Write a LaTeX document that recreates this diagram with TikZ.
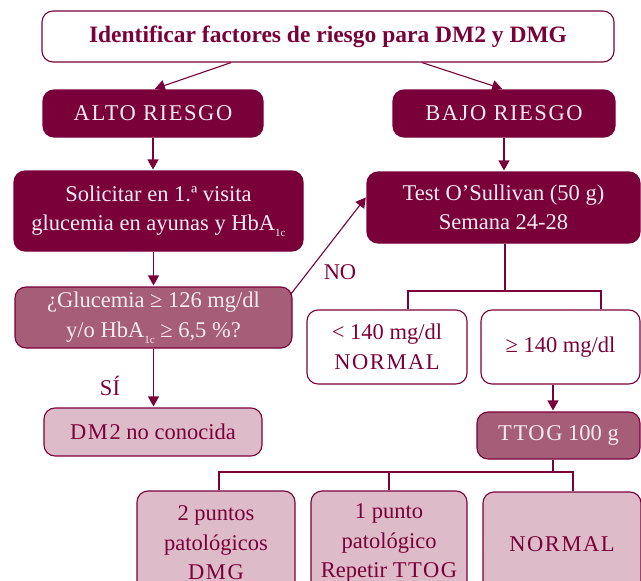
\documentclass[tikz,border=0pt]{standalone}
\usepackage{fontspec}
\setmainfont{Liberation Serif}
\usetikzlibrary{arrows.meta,calc}
\definecolor{maroon}{RGB}{122,0,58}
\definecolor{midc}{RGB}{166,94,120}
\definecolor{lightc}{RGB}{221,187,200}
\definecolor{txtlight}{RGB}{246,236,241}
\newcommand{\subic}{\raisebox{-6pt}{\fontsize{11}{11}\selectfont 1c}}
\newcommand{\capsp}[1]{{\addfontfeatures{LetterSpace=7}#1}}
\begin{document}
\begin{tikzpicture}[x=1pt,y=-1pt,
  box/.style={rounded corners=11pt, draw=maroon, line width=1.1pt, align=center, inner sep=0pt,
     font=\fontsize{22.5}{29.5}\selectfont},
  darkbox/.style={box, fill=maroon, text=txtlight},
  midbox/.style={box, fill=midc, text=txtlight},
  litebox/.style={box, fill=lightc, text=maroon},
  wbox/.style={box, fill=white, text=maroon},
  arr/.style={draw=maroon, line width=1.1pt, -{Triangle[length=10pt,width=11pt]}},
  ln/.style={draw=maroon, line width=1.1pt},
  lbl/.style={text=maroon, font=\fontsize{22.5}{29}\selectfont, inner sep=0pt}]
\useasboundingbox (0,0) rectangle (641,581);
\clip (0,0) rectangle (641,581);

\node[wbox, minimum width=572pt, minimum height=51pt, font=\fontsize{23.5}{29}\bfseries\selectfont] (top) at (328,36.5) {Identificar factores de riesgo para DM2 y DMG};
\node[darkbox, minimum width=220pt, minimum height=47pt] (alto) at (153,113.5) {\capsp{ALTO RIESGO}};
\node[darkbox, minimum width=222pt, minimum height=47pt] (bajo) at (504,113.5) {\capsp{BAJO RIESGO}};
\node[darkbox, minimum width=289pt, minimum height=80pt] (sol) at (158.5,211) {Solicitar en 1.ª visita\\glucemia en ayunas y HbA\subic};
\node[darkbox, minimum width=273pt, minimum height=71pt] (test) at (503.5,207.5) {Test O’Sullivan (50 g)\\Semana 24-28};
\node[midbox, minimum width=277pt, minimum height=61pt] (glu) at (153.5,317.5) {¿Glucemia ≥ 126 mg/dl\\y/o HbA\subic{} ≥ 6,5 \%?};
\node[litebox, minimum width=218pt, minimum height=48pt] (dm2) at (153,432) {\capsp{DM2} no conocida};
\node[wbox, minimum width=160pt, minimum height=74pt] (lt) at (387,347) {< 140 mg/dl\\\capsp{NORMAL}};
\node[wbox, minimum width=159pt, minimum height=74pt] (ge) at (560.5,347) {≥ 140 mg/dl};
\node[midbox, minimum width=163pt, minimum height=47pt] (ttog) at (558.5,435.5) {\capsp{TTOG} 100 g};
\node[litebox, minimum width=158pt, minimum height=104pt] (p2) at (216,543) {2 puntos\\patológicos\\\capsp{DMG}};
\node[litebox, minimum width=156pt, minimum height=104pt] (p1) at (389,543) {1 punto\\patológico\\Repetir \capsp{TTOG}};
\node[litebox, minimum width=158pt, minimum height=104pt] (nor) at (562,544) {\capsp{NORMAL}};

% top to risk boxes
\draw[arr, shorten >=2pt] ($(top.south west)!0.331!(top.south east)$) -- (alto.north);
\draw[arr, shorten >=2pt] ($(top.south west)!0.664!(top.south east)$) -- (bajo.north);
% vertical arrows
\draw[arr, shorten >=1pt] (alto.south) -- (alto.south |- sol.north);
\draw[arr, shorten >=1pt] (bajo.south) -- (bajo.south |- test.north);
\draw[arr, shorten >=1pt] (glu.north |- sol.south) -- (glu.north);
\draw[arr, shorten >=1pt] (glu.south) -- (glu.south |- dm2.north);
\node[lbl] (si) at (110,386) {SÍ};
% NO arrow
\coordinate (nos) at ($(glu.north east)!0.13!(glu.south east)$);
\coordinate (noe) at ($(test.north west)!0.35!(test.south west)$);
\draw[arr, shorten >=1pt] ($(nos)+(-2,0)$) -- (noe);
\node[lbl] (no) at (340,272) {NO};
% test split
\coordinate (sp1) at (505,291);
\coordinate (lt1) at ($(lt.north)+(21,0)$);
\coordinate (ge1) at ($(ge.north)+(40.5,0)$);
\draw[ln] (test.south -| sp1) -- (sp1);
\draw[ln] (lt1) |- (sp1) -| (ge1);
% ge to ttog
\coordinate (g2) at ($(ge.south)+(-7.5,0)$);
\draw[arr, shorten >=1pt] (g2) -- (g2 |- ttog.north);
% ttog split
\coordinate (sp2) at (553,472);
\coordinate (c2) at ($(p2.north)+(3,0)$);
\coordinate (c3) at ($(nor.north)+(11,0)$);
\draw[ln] (ttog.south -| sp2) -- (sp2);
\draw[ln] (c2) |- (sp2) -| (c3);
\draw[ln] (p1.north) -- (p1.north |- sp2);
\end{tikzpicture}
\end{document}
